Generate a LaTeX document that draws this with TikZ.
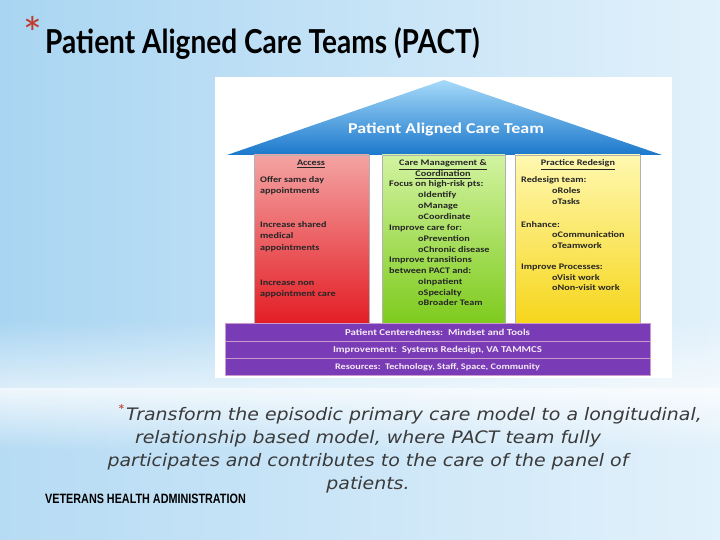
\documentclass[tikz,border=0pt]{standalone}
\usepackage{fontspec}
\usepackage{tikz}
\usetikzlibrary{fadings}
\setmainfont{Carlito}
\newfontfamily\titlefont{Lato}[FakeStretch=0.85]
\newfontfamily\picfont{Carlito}[FakeStretch=1.2]
\newfontfamily\notefont{DejaVu Sans}[FakeStretch=1.1]
\newfontfamily\starfont{Lato}
\newfontfamily\vhafont{Liberation Sans}[FakeStretch=0.8]

\definecolor{skyblue}{HTML}{A9D5F2}
\definecolor{paleblue}{HTML}{E2F1FB}
\definecolor{rooflight}{HTML}{A6DAF9}
\definecolor{roofdark}{HTML}{1B78CC}
\definecolor{redtop}{HTML}{F4A3A3}
\definecolor{redbot}{HTML}{E31E25}
\definecolor{greentop}{HTML}{D2F3A0}
\definecolor{greenbot}{HTML}{7ECB1E}
\definecolor{yellowtop}{HTML}{FFF8B0}
\definecolor{yellowbot}{HTML}{F6D61C}
\definecolor{barpurple}{HTML}{7A3CB6}
\definecolor{asterred}{HTML}{C0392B}
\definecolor{notegray}{HTML}{3A3A3A}

\begin{document}
\begin{tikzpicture}[
        x=1pt, y=-1pt,
        column/.style={draw=gray!60, line width=0.4pt},
        coltext/.style={anchor=base west, inner sep=0pt, font=\picfont\bfseries\fontsize{8.5}{10}\selectfont, text=black!85},
        colhead/.style={coltext, anchor=base},
        bar/.style={draw=violet!40, fill=barpurple, minimum width=425pt, inner sep=0pt, text=white!92!violet, font=\picfont\bfseries\fontsize{9}{10}\selectfont},
        noteline/.style={anchor=base, inner sep=0pt, text=notegray, font=\notefont\itshape\fontsize{17.2}{18}\selectfont}
    ]
        \useasboundingbox (0,0) rectangle (720,540);

        % background
        \shade[left color=skyblue, right color=paleblue] (0,0) rectangle (720,388);
        \fill[white, opacity=0.6, path fading=north] (0,320) rectangle (720,388);
        \shade[left color=skyblue!85!white, right color=paleblue] (0,388) rectangle (720,540);
        \fill[white, opacity=0.8, path fading=south] (0,388) rectangle (720,450);

        % title
        \node[text=asterred, font=\starfont\fontsize{44}{44}\selectfont, anchor=base west, inner sep=0pt] (star) at (23,50) {*};
        \node[font=\titlefont\bfseries\fontsize{33}{34}\selectfont, anchor=base west, inner sep=0pt] (title) at (45,54) {Patient Aligned Care Teams (PACT)};

        % picture panel
        \fill[white] (215,77) rectangle (672,378);

        % roof
        \shade[top color=rooflight, bottom color=roofdark] (444,80) -- (662,155) -- (227,155) -- cycle;
        \node[text=white, font=\picfont\bfseries\fontsize{15}{16}\selectfont] (roof) at (446,129) {Patient Aligned Care Team};

        % columns
        \shade[column, top color=redtop, bottom color=redbot] (254,155) rectangle (369,323);
        \shade[column, top color=greentop, bottom color=greenbot] (382,155) rectangle (505,323);
        \shade[column, top color=yellowtop, bottom color=yellowbot] (515,155) rectangle (640,323);

        % access
        \node[colhead] (access) at (311,166) {\underline{Access}};
        \foreach \y/\t [count=\i] in {183/Offer same day, 194/appointments, 228/Increase shared, 239/medical, 250/appointments, 285/Increase non, 296/appointment care}
            \node[coltext] (access-\i) at (260,\y) {\t};

        % care management
        \node[colhead] (caremgmt) at (443,166) {\underline{Care Management \&}};
        \node[colhead] (coord) at (443,177) {\underline{Coordination}};
        \foreach \x/\y/\t [count=\i] in {389/187/Focus on high-risk pts:, 418/198/oIdentify, 418/208/oManage, 418/219/oCoordinate,
                389/230/Improve care for:, 418/241/oPrevention, 418/252/oChronic disease, 389/262/Improve transitions,
                389/273/between PACT and:, 418/284/oInpatient, 418/295/oSpecialty, 418/305/oBroader Team}
            \node[coltext] (care-\i) at (\x,\y) {\t};

        % practice redesign
        \node[colhead] (redesign) at (578,166) {\underline{Practice Redesign}};
        \foreach \x/\y/\t [count=\i] in {521/183/Redesign team:, 552/194/oRoles, 552/205/oTasks, 521/227/Enhance:,
                552/237/oCommunication, 552/248/oTeamwork, 521/269/Improve Processes:, 552/280/oVisit work, 552/290/oNon-visit work}
            \node[coltext] (practice-\i) at (\x,\y) {\t};

        % foundation bars
        \node[bar, minimum height=18pt] (centered) at (437.5,332) {Patient Centeredness:\ \ Mindset and Tools};
        \node[bar, minimum height=17pt] (improve) at (437.5,350) {Improvement:\ \ Systems Redesign, VA TAMMCS};
        \node[bar, minimum height=17pt, font=\picfont\bfseries\fontsize{8.5}{10}\selectfont] (resources) at (437.5,367) {Resources:\ \ Technology, Staff, Space, Community};

        % note
        \node[noteline, anchor=base west] (note-1) at (126,420) {Transform the episodic primary care model to a longitudinal,};
        \node[anchor=base east, inner sep=0pt, text=asterred, font=\starfont\fontsize{16}{16}\selectfont] (bullet) at (125,416) {*};
        \foreach \y/\t [count=\i from 2] in {443/{relationship based model, where PACT team fully}, 466/{participates and contributes to the care of the panel of}, 489/patients.}
            \node[noteline] (note-\i) at (368,\y) {\t};

        \node[anchor=base west, inner sep=0pt, font=\vhafont\bfseries\fontsize{13.5}{14}\selectfont] (vha) at (45,503) {VETERANS HEALTH ADMINISTRATION};
    \end{tikzpicture}
\end{document}
